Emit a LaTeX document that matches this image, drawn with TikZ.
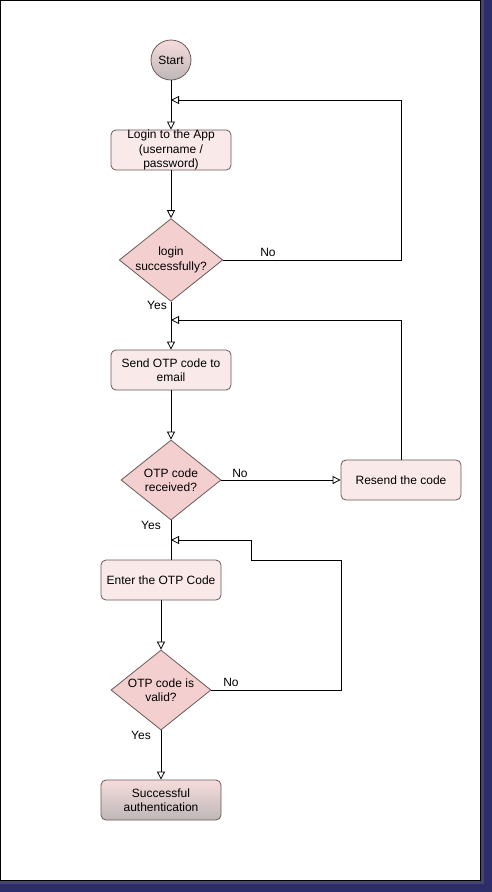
\documentclass[tikz,border=0pt]{standalone}
\usepackage{fontspec}
\setmainfont{Liberation Sans}
\usetikzlibrary{shapes.geometric,arrows.meta}
\definecolor{navy}{HTML}{2D2D6B}
\definecolor{navylight}{HTML}{45456E}
\definecolor{boxfill}{HTML}{F9E9E9}
\definecolor{diafill}{HTML}{F4CFCF}
\definecolor{edge}{HTML}{6A5A5A}
\definecolor{gtop}{HTML}{F6DCDC}
\definecolor{gbot}{HTML}{BEB7B7}
\begin{document}
\begin{tikzpicture}[x=1pt,y=-1pt,
  every node/.style={font=\fontsize{12}{14.5}\selectfont, align=center, inner sep=0pt},
  procbox/.style={draw=edge, fill=boxfill, rounded corners=5pt, minimum width=120pt, minimum height=40pt, line width=0.8pt},
  endbox/.style={draw=edge, rounded corners=5pt, minimum width=120pt, minimum height=40pt, top color=gtop, bottom color=gbot, line width=0.8pt},
  decision/.style={draw=edge, fill=diafill, diamond, minimum width=100pt, minimum height=80pt, line width=0.8pt, aspect=1.25},
  startnode/.style={draw=edge, circle, minimum size=40pt, top color=gtop, bottom color=gbot, line width=0.8pt},
  flow/.style={draw=black, line width=0.8pt, -{Triangle[open, length=8pt, width=8pt]}},
  plain/.style={draw=black, line width=0.8pt},
  lbl/.style={font=\fontsize{12}{14}\selectfont}
]
% background and frame
\fill[navy] (0,0) rectangle (492,892);
\fill[navylight] (0,880) rectangle (484,884);
\fill[navylight] (480,0) rectangle (484,884);
\fill[white] (0,0) rectangle (480,880);
\draw[black, line width=1pt] (0.5,0.5) rectangle (480.5,880.5);
\useasboundingbox (0,0) rectangle (492,892);

% nodes
\node[startnode] (start) at (171,60) {Start};
\node[procbox] (login) at (171,150) {Login to the App\\(username /\\password)};
\node[decision] (d1) at (171,260) {login\\successfully?};
\node[procbox] (send) at (171,370) {Send OTP code to\\email};
\node[decision] (d2) at (171,480) {OTP code\\received?};
\node[procbox] (resend) at (401,480) {Resend the code};
\node[procbox] (enter) at (161,580) {Enter the OTP Code};
\node[decision] (d3) at (161,690) {OTP code is\\valid?};
\node[endbox] (done) at (161,800) {Successful\\authentication};

% helper coordinates
\coordinate (j1) at (171,100);
\coordinate (j2) at (171,320);
\coordinate (j3) at (171,540);
\coordinate (e3) at (171,560);

% connectors
\draw[flow] (start) -- (login);
\draw[flow] (login) -- (d1);
\draw[flow] (d1.east) -- (401,260) -- (401,100) -- (j1);
\draw[flow] (d1) -- (send);
\draw[flow] (send) -- (d2);
\draw[flow] (d2.east) -- (resend.west);
\draw[flow] (resend.north) -- (401,320) -- (j2);
\draw[plain] (d2.south) -- (e3);
\draw[flow] (enter) -- (d3);
\draw[flow] (d3.east) -- (341,690) -- (341,560) -- (251,560) -- (251,540) -- (j3);
\draw[flow] (d3) -- (done);

% labels
\node[lbl] (no1) at (268,252) {No};
\node[lbl] (yes1) at (157,305) {Yes};
\node[lbl] (no2) at (240,473) {No};
\node[lbl] (yes2) at (151,525) {Yes};
\node[lbl] (no3) at (231,682) {No};
\node[lbl] (yes3) at (141,735) {Yes};
\end{tikzpicture}
\end{document}
